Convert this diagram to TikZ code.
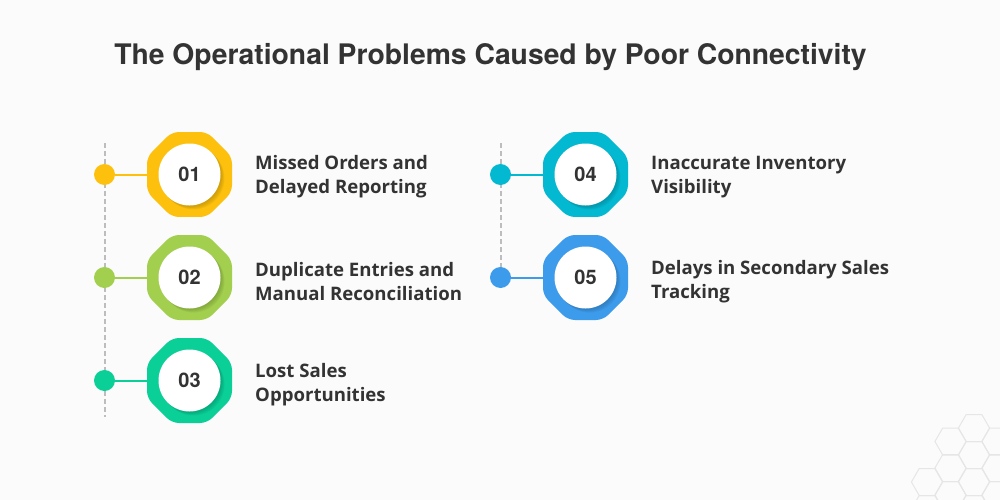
\documentclass[tikz,border=0pt]{standalone}
\usepackage{fontspec}
\setmainfont{Open Sans}
\newfontfamily\titlefont{TeX Gyre Heros}
\usetikzlibrary{shapes.geometric,calc}
\definecolor{bg}{HTML}{FBFBFB}
\definecolor{txt}{HTML}{333333}
\definecolor{cA}{HTML}{FDC10D}
\definecolor{cB}{HTML}{A2CF4D}
\definecolor{cC}{HTML}{0ACF97}
\definecolor{cD}{HTML}{03B8D1}
\definecolor{cE}{HTML}{3D9BEB}
\definecolor{dashc}{HTML}{BDBDBD}
\definecolor{hexc}{HTML}{E6E6E6}
\tikzset{
  octo/.style={regular polygon, regular polygon sides=8, minimum size=92pt, inner sep=0pt, rounded corners=7pt, fill=#1},
  disc/.style={circle, minimum size=62pt, inner sep=0pt, fill=white, text=txt, font=\titlefont\bfseries\fontsize{20}{20}\selectfont},
  dot/.style={circle, minimum size=21pt, inner sep=0pt, fill=#1},
  link/.style={draw=#1, line width=2pt},
  label/.style={anchor=west, inner sep=0pt, align=left, text=txt, font=\bfseries\fontsize{18.6}{24}\selectfont},
  guide/.style={draw=dashc, line width=1.8pt, dash pattern=on 5pt off 3pt},
  hexa/.style={draw=hexc, line width=1pt}
}
\newcommand{\shadowdisc}[2]{%
  \foreach \k in {1,2,3,4,5}{\fill[#2!65!black, opacity=0.12] ($(#1)+(0.8*\k,0.8*\k)$) circle (31pt);}
}
\begin{document}
\begin{tikzpicture}[x=1pt,y=-1pt]
\useasboundingbox (0,0) rectangle (1000,500);
\fill[bg] (0,0) rectangle (1000,500);

% honeycomb
\foreach \cx/\cy in {927/482, 927/509, 950.5/441.5, 950.5/468, 950.5/495, 974/428, 974/455, 974/482, 974/509, 997.5/441.5, 997.5/468, 997.5/495}{
  \draw[hexa] (\cx+15.6,\cy) -- (\cx+7.8,\cy+13.5) -- (\cx-7.8,\cy+13.5) -- (\cx-15.6,\cy) -- (\cx-7.8,\cy-13.5) -- (\cx+7.8,\cy-13.5) -- cycle;
}

% title
\node[anchor=base, inner sep=0pt, text=txt, font=\titlefont\bfseries\fontsize{28.3}{28.3}\selectfont] (title) at (490.5,65) {The Operational Problems Caused by Poor Connectivity};

% guides
\coordinate (gL0) at (105,143);
\coordinate (gL1) at (105,417);
\coordinate (gR0) at (501,143);
\coordinate (gR1) at (501,277.5);
\draw[guide] (gL0) -- (gL1);
\draw[guide] (gR0) -- (gR1);

% items
\foreach \n/\x/\y/\dy/\c/\t in {
  1/189.5/174.5/2.5/cA/{Missed Orders and\\Delayed Reporting},
  2/189.5/277.5/4/cB/{Duplicate Entries and\\Manual Reconciliation},
  3/189.5/380.5/4.5/cC/{Lost Sales\\Opportunities},
  4/585.5/174.5/2.5/cD/{Inaccurate Inventory\\Visibility},
  5/585.5/277.5/4/cE/{Delays in Secondary Sales\\Tracking}}{
  \node[dot=\c] (d\n) at (\x-85,\y) {};
  \draw[link=\c] (d\n) -- (\x-40,\y);
  \node[octo=\c] (o\n) at (\x,\y) {};
  \shadowdisc{o\n}{\c}
  \node[disc] (c\n) at (o\n) {0\n};
  \node[label] (t\n) at (\x+65.5,\y+\dy) {\t};
}
\end{tikzpicture}
\end{document}
